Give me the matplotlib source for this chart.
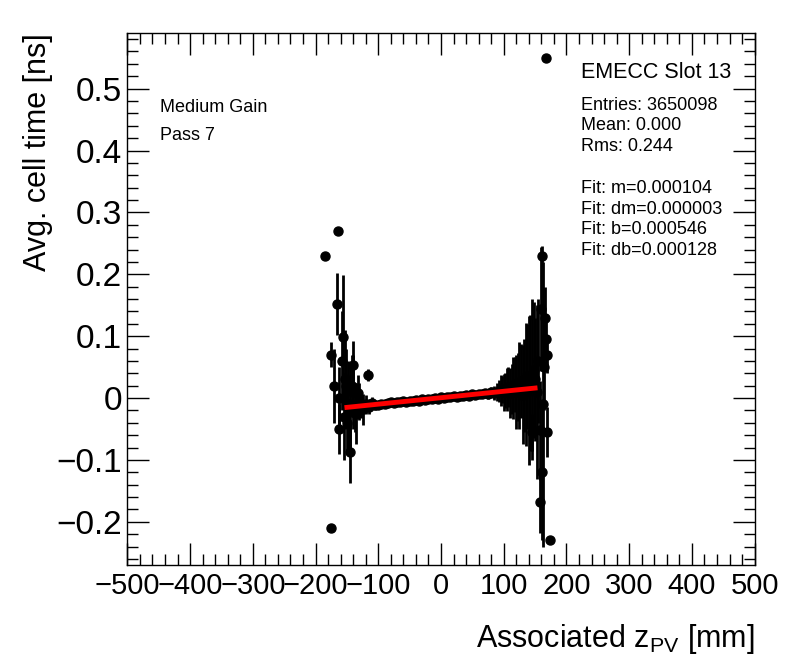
import numpy as np
import matplotlib.pyplot as plt
from matplotlib.ticker import MultipleLocator

plt.rcParams['font.family'] = ['Liberation Sans', 'DejaVu Sans']

# central band, 5 mm steps
x_c = [-145, -140, -135, -130, -125, -120, -115, -110, -105, -100, -95, -90, -85, -80,
       -75, -70, -65, -60, -55, -50, -45, -40, -35, -30, -25, -20, -15, -10, -5, 0,
       5, 10, 15, 20, 25, 30, 35, 40, 45, 50, 55, 60, 65, 70, 75, 80, 85, 90, 95,
       100, 105, 110, 115, 120, 125, 130, 135, 140, 145]
y_c = [-0.020, 0.010, -0.025, -0.005, -0.018, -0.010, -0.014, -0.008, -0.012, -0.011,
       -0.009, -0.010, -0.008, -0.007, -0.008, -0.006, -0.007, -0.005, -0.006, -0.004,
       -0.005, -0.003, -0.004, -0.002, -0.003, -0.001, -0.002, 0.000, -0.001, 0.001,
       0.000, 0.002, 0.001, 0.003, 0.002, 0.004, 0.003, 0.005, 0.004, 0.006,
       0.005, 0.007, 0.006, 0.008, 0.007, 0.009, 0.008, 0.010, 0.012, 0.009,
       0.014, 0.008, 0.016, 0.010, 0.020, 0.005, 0.022, 0.012, 0.030]
e_c = [0.070, 0.060, 0.050, 0.030, 0.025, 0.015, 0.012, 0.010, 0.008, 0.007,
       0.006, 0.006, 0.005, 0.005, 0.005, 0.005, 0.004, 0.004, 0.004, 0.004,
       0.004, 0.004, 0.004, 0.004, 0.004, 0.004, 0.004, 0.004, 0.004, 0.004,
       0.004, 0.004, 0.004, 0.004, 0.004, 0.005, 0.005, 0.005, 0.005, 0.005,
       0.006, 0.006, 0.006, 0.007, 0.008, 0.009, 0.011, 0.015, 0.025, 0.030,
       0.035, 0.040, 0.050, 0.060, 0.070, 0.080, 0.100, 0.120, 0.130]

# extra bins filling the noisy edges
x_e = [-152.5, -147.5, -142.5, -137.5, -132.5, -127.5,
       92.5, 97.5, 102.5, 107.5, 112.5, 117.5, 122.5, 127.5, 132.5, 137.5, 142.5, 147.5, 152.5]
y_e = [0.030, -0.010, 0.020, -0.015, 0.008, -0.012,
       0.011, 0.014, 0.012, 0.018, 0.015, 0.022, 0.018, 0.028, 0.020, 0.035, 0.025, 0.045, 0.010]
e_e = [0.080, 0.070, 0.050, 0.040, 0.030, 0.020,
       0.018, 0.022, 0.028, 0.032, 0.040, 0.045, 0.055, 0.060, 0.075, 0.085, 0.110, 0.110, 0.140]

# tails
x_t = [-185, -175, -175, -170, -165, -164, -162, -162, -158, -156, -155, -152, -150,
       -145, -140, -116,
       145, 150, 155, 158, 158, 159, 161, 161, 163, 165, 166, 167, 168, 169, 169, 174]
y_t = [0.230, -0.210, 0.070, 0.020, 0.152, 0.270, -0.050, 0.000, 0.060, 0.099, -0.030,
       0.020, -0.040, -0.087, 0.053, 0.037,
       -0.055, 0.030, 0.060, -0.052, -0.168, 0.144, 0.230, -0.120, -0.010, 0.050,
       0.129, 0.550, 0.095, 0.070, -0.055, -0.230]
e_t = [0.0, 0.0, 0.020, 0.060, 0.050, 0.0, 0.040, 0.050, 0.080, 0.100, 0.070,
       0.060, 0.050, 0.050, 0.040, 0.010,
       0.030, 0.100, 0.100, 0.080, 0.050, 0.100, 0.016, 0.110, 0.230, 0.070,
       0.050, 0.0, 0.040, 0.030, 0.040, 0.0]

fit_m = 0.000104
fit_b = 0.000546
fit_x = [-150, 150]

fig = plt.figure(figsize=(7.96, 6.72), dpi=100)
ax = fig.add_axes([0.16, 0.159, 0.788, 0.792])

ax.errorbar(x_c + x_e + x_t, y_c + y_e + y_t, yerr=e_c + e_e + e_t, fmt='o',
            color='black', markersize=6.5, elinewidth=2, capsize=0, zorder=2)
fx = np.array(fit_x)
ax.plot(fx, fit_m * fx + fit_b, color='red', lw=3.5, zorder=3)

ax.set_xlim(-500, 500)
ax.set_ylim(-0.27, 0.59)
ax.xaxis.set_major_locator(MultipleLocator(100))
ax.xaxis.set_minor_locator(MultipleLocator(20))
ax.yaxis.set_major_locator(MultipleLocator(0.1))
ax.yaxis.set_minor_locator(MultipleLocator(0.02))
ax.tick_params(which='both', direction='in', top=True, right=True, width=1)
ax.tick_params(which='major', length=16)
ax.tick_params(which='minor', length=8)
ax.tick_params(axis='y', labelsize=24, pad=4)
ax.tick_params(axis='x', labelsize=21, pad=5)
ax.set_yticks([-0.2, -0.1, 0, 0.1, 0.2, 0.3, 0.4, 0.5])
ax.set_yticklabels(['\u22120.2', '\u22120.1', '0', '0.1', '0.2', '0.3', '0.4', '0.5'])
ax.set_xticks(np.arange(-500, 501, 100))
ax.set_xticklabels([str(v).replace('-', '\u2212') for v in range(-500, 501, 100)])
for s in ax.spines.values():
    s.set_linewidth(1)

ax.set_ylabel('Avg. cell time [ns]', fontsize=22, loc='top')
ax.yaxis.set_label_coords(-0.118, 1.0)
ax.set_xlabel('Associated z$_{\\mathregular{PV}}$ [mm]', fontsize=22, loc='right')
ax.xaxis.set_label_coords(1.0, -0.107)

fig.text(160 / 796, 1 - 107 / 672, 'Medium Gain', fontsize=13, va='center')
fig.text(160 / 796, 1 - 136 / 672, 'Pass 7', fontsize=13, va='center')
fig.text(581 / 796, 1 - 73 / 672, 'EMECC Slot 13', fontsize=15.5, va='center')
stats = ['Entries: 3650098', 'Mean: 0.000', 'Rms: 0.244', '',
         'Fit: m=0.000104', 'Fit: dm=0.000003', 'Fit: b=0.000546', 'Fit: db=0.000128']
for i, s in enumerate(stats):
    fig.text(581 / 796, 1 - (105 + 20.8 * i) / 672, s, fontsize=13, va='center')

fig.savefig('out.png', dpi=100)
